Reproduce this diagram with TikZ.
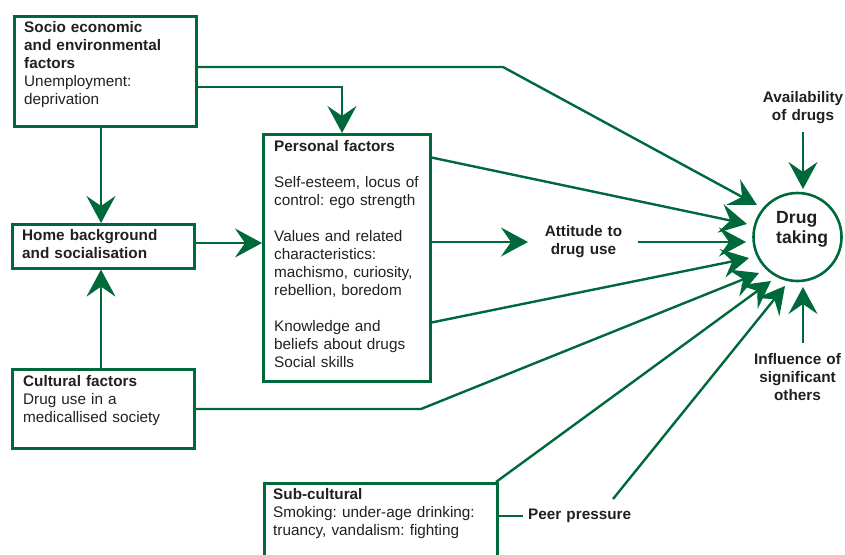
\documentclass[tikz,border=0pt]{standalone}
\usepackage{fontspec}
\setmainfont{Liberation Sans}
\usetikzlibrary{arrows.meta,calc}
\definecolor{dgreen}{RGB}{0,105,60}
\definecolor{dtext}{RGB}{35,31,32}
\frenchspacing
\begin{document}
\begin{tikzpicture}[x=1pt,y=-1pt,
  box/.style={draw=dgreen,line width=2.6pt,rectangle,inner sep=0pt,anchor=north west},
  txt/.style={inner sep=0pt,text=dtext,align=left,font=\fontsize{15.3}{18}\selectfont},
  ctxt/.style={inner sep=0pt,text=dtext,align=center,font=\bfseries\fontsize{15.3}{18}\selectfont},
  con/.style={draw=dgreen,line width=2.4pt},
  arr/.style={con,-{Stealth[length=27pt,width=29pt,inset=10pt]}},
  dtc/.style={draw=dgreen,line width=2.6pt,circle,minimum size=88pt,inner sep=0pt}
]
\useasboundingbox (0,0) rectangle (845,554);

% boxes
\node[box,minimum width=182pt,minimum height=110pt] (socio) at (13,15) {};
\node[box,minimum width=167pt,minimum height=247pt] (pers) at (262,133) {};
\node[box,minimum width=182pt,minimum height=44pt] (home) at (11,223) {};
\node[box,minimum width=182pt,minimum height=79pt] (cult) at (11,368) {};
\node[box,minimum width=233pt,minimum height=90pt] (sub) at (263,482) {};
\node[dtc] (dt) at (797.5,237) {};

% texts
\node[txt,text width=170pt,anchor=base west] (sociot) at (24,32)
  {\textbf{Socio economic}\\\textbf{and environmental}\\\textbf{factors}\\Unemployment:\\deprivation};
\node[txt,text width=160pt,anchor=base west] (perst) at (274,151)
  {\textbf{Personal factors}\\[18pt]Self-esteem, locus of\\control: ego strength\\[18pt]Values and related\\characteristics:\\machismo, curiosity,\\rebellion, boredom\\[18pt]Knowledge and\\beliefs about drugs\\Social skills};
\node[txt,text width=170pt,anchor=base west] (homet) at (22,240)
  {\textbf{Home background}\\\textbf{and socialisation}};
\node[txt,text width=170pt,anchor=base west] (cultt) at (23,386)
  {\textbf{Cultural factors}\\Drug use in a\\medicallised society};
\node[txt,text width=225pt,anchor=base west] (subt) at (273,499)
  {\textbf{Sub-cultural}\\Smoking: under-age drinking:\\truancy, vandalism: fighting};
\node[txt,text width=120pt,anchor=base west,font=\bfseries\fontsize{15.3}{18}\selectfont] (peer) at (528,519) {Peer pressure};
\node[ctxt,text width=100pt,anchor=base] (att) at (583.5,236) {Attitude to\\drug use};
\node[ctxt,text width=100pt,anchor=base] (avail) at (803,102) {Availability\\of drugs};
\node[ctxt,text width=100pt,anchor=base] (infl) at (797.5,364) {Influence of\\significant\\others};
\node[txt,text width=60pt,anchor=base west,font=\bfseries\fontsize{17.6}{20.5}\selectfont] (dtt) at (776,223) {Drug\\taking};

% coordinates
\coordinate (s1) at (195,67);
\coordinate (b1) at (503,67);
\coordinate (s2) at (195,87);
\coordinate (b2) at (342,87);
\coordinate (c1) at (193,409);
\coordinate (b3) at (421,409);
\coordinate (p1) at (429,157);
\coordinate (p2) at (429,242);
\coordinate (p3) at (429,323);
\coordinate (a1) at (638,242);
\coordinate (sc) at (496,482);
\coordinate (sp) at (496,516);
\coordinate (pe) at (523,516);
\coordinate (pp) at (613,499);
\coordinate (av) at (803,132);
\coordinate (avt) at (803,189);
\coordinate (in) at (803,343);
\coordinate (int) at (803,287);

% connectors
\draw[arr] (s1) -- (b1) -- (757,205);
\draw[arr] (s2) -- (b2) -- (b2 |- pers.north);
\draw[arr] (socio.south -| 101,0) -- (home.north -| 101,0);
\draw[arr] (cult.north -| 101,0) -- (home.south -| 101,0);
\draw[arr] (home.east |- 0,243) -- (pers.west |- 0,243);
\draw[arr] (c1) -- (b3) -- (759,273);
\draw[arr] (p1) -- (747,224);
\draw[arr] (p2) -- (528,242);
\draw[arr] (a1) -- (746,242);
\draw[arr] (p3) -- (749,258);
\draw[arr] (sc) -- (771,281);
\draw[arr] (pp) -- (785,286);
\draw[con] (sp) -- (pe);
\draw[arr] (av) -- (avt);
\draw[arr] (in) -- (int);
\end{tikzpicture}
\end{document}
